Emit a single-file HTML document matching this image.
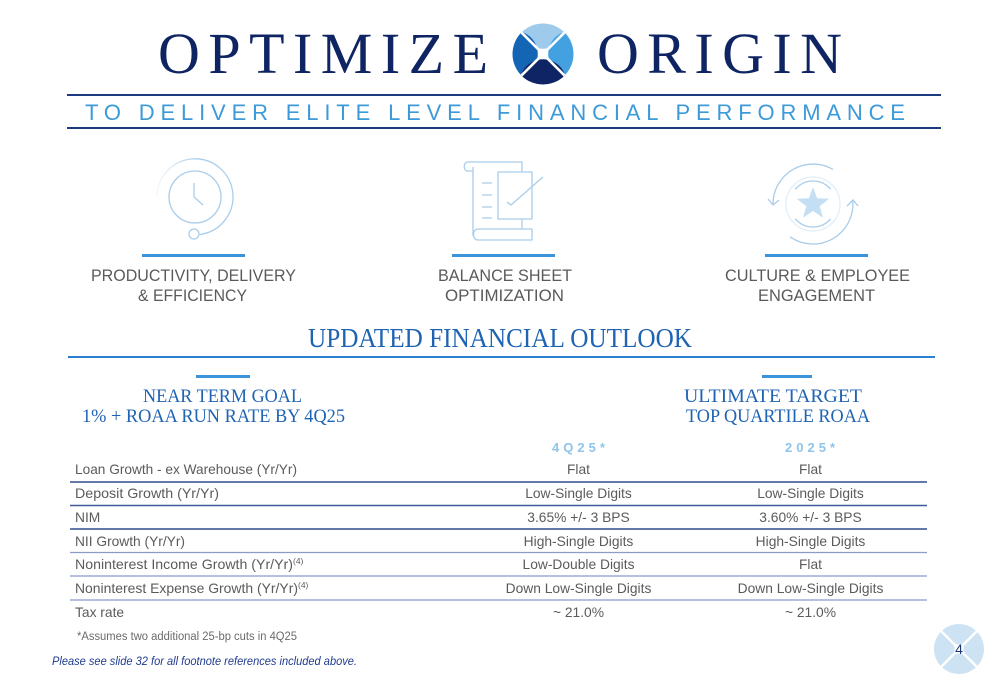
<!DOCTYPE html>
<html>
<head>
<meta charset="utf-8">
<style>
  html,body{margin:0;padding:0;background:#ffffff;}
  svg{display:block;}
  .sans{font-family:"Liberation Sans", Arial, sans-serif;}
  .serif{font-family:"Liberation Serif", "Times New Roman", serif;}
</style>
</head>
<body>
<svg width="1000" height="685" viewBox="0 0 1000 685" xmlns="http://www.w3.org/2000/svg">
  <defs>
    <clipPath id="lc"><circle cx="543" cy="54" r="30.5"/></clipPath>
    <clipPath id="pc"><circle cx="959" cy="649" r="25"/></clipPath>
    <linearGradient id="fadeL" gradientUnits="userSpaceOnUse" x1="155" y1="0" x2="200" y2="0">
      <stop offset="0" stop-color="#a9cdea" stop-opacity="0.1"/>
      <stop offset="1" stop-color="#a9cdea" stop-opacity="1"/>
    </linearGradient>
  </defs>
  <rect width="1000" height="685" fill="#ffffff"/>

  <!-- Title -->
  <text class="serif" x="158" y="73" font-size="58" fill="#0f2462" textLength="330" lengthAdjust="spacing">OPTIMIZE</text>
  <text class="serif" x="597" y="73" font-size="58" fill="#0f2462" textLength="245" lengthAdjust="spacing">ORIGIN</text>

  <!-- Logo -->
  <g clip-path="url(#lc)">
    <circle cx="543" cy="25.5" r="23.3" fill="#9ecbec"/>
    <circle cx="514.5" cy="54" r="23.3" fill="#1565b5"/>
    <circle cx="571.5" cy="54" r="23.3" fill="#43a1e1"/>
    <circle cx="543" cy="82.5" r="23.3" fill="#0f2464"/>
    <line x1="510" y1="21" x2="576" y2="87" stroke="#ffffff" stroke-width="2.6"/>
    <line x1="576" y1="21" x2="510" y2="87" stroke="#ffffff" stroke-width="2.6"/>
  </g>

  <!-- Subtitle band -->
  <line x1="67" y1="95" x2="941" y2="95" stroke="#1c3a80" stroke-width="2"/>
  <line x1="67" y1="128" x2="941" y2="128" stroke="#1c3a80" stroke-width="2"/>
  <text class="sans" x="85" y="120" font-size="22" fill="#3d9ad9" textLength="820" lengthAdjust="spacing">TO DELIVER ELITE LEVEL FINANCIAL PERFORMANCE</text>

  <!-- Icon 1: clock -->
  <g fill="none" stroke="#a9cdea" stroke-width="1.3">
    <circle cx="195" cy="197" r="26"/>
    <path d="M194 183 V197 L203 205"/>
    <path d="M157 197 A38 38 0 1 1 200 234.5" stroke="url(#fadeL)"/>
    <circle cx="194" cy="234" r="5"/>
  </g>
  <rect x="142" y="254" width="103" height="3" fill="#3b94d9"/>
  <text class="sans" x="91" y="281" font-size="17" fill="#5a5a5a" textLength="205" lengthAdjust="spacingAndGlyphs">PRODUCTIVITY, DELIVERY</text>
  <text class="sans" x="138" y="301" font-size="17" fill="#5a5a5a" textLength="109" lengthAdjust="spacingAndGlyphs">&amp; EFFICIENCY</text>

  <!-- Icon 2: document -->
  <g fill="none" stroke="#a9cdea" stroke-width="1.3" stroke-linejoin="round">
    <path d="M468 162 H522 V229"/>
    <path d="M473 167 V236"/>
    <path d="M468 162 C463 162 463 171 468 171 H473"/>
    <rect x="498" y="172" width="34" height="47" fill="#ffffff"/>
    <path d="M478 229 H532 V240 H478 C472 240 472 229 478 229 Z"/>
    <path d="M482 183 h10 M482 195 h10 M482 207 h10 M482 218 h10"/>
    <path d="M507 202 L511 205 L543 177"/>
  </g>
  <rect x="452" y="254" width="103" height="3" fill="#3b94d9"/>
  <text class="sans" x="438" y="281" font-size="17" fill="#5a5a5a" textLength="134" lengthAdjust="spacingAndGlyphs">BALANCE SHEET</text>
  <text class="sans" x="445" y="301" font-size="17" fill="#5a5a5a" textLength="119" lengthAdjust="spacingAndGlyphs">OPTIMIZATION</text>

  <!-- Icon 3: star -->
  <g fill="none" stroke="#a9cdea" stroke-width="1.3">
    <circle cx="813" cy="204" r="27" stroke="#e1eef8"/>
    <path d="M795.4 189.2 A23 23 0 0 1 830.6 189.2"/>
    <path d="M830.6 218.8 A23 23 0 0 1 795.4 218.8"/>
    <path d="M773 204 A40 40 0 0 1 833 169.4"/>
    <path d="M768 199 L773 205 L779 200"/>
    <path d="M790 236.8 A40 40 0 0 0 852.8 200.5"/>
    <path d="M847 206 L853 200 L858 206"/>
  </g>
  <polygon points="813,187 817.1,198.3 829.2,198.7 819.7,206.2 823,217.8 813,211 803,217.8 806.3,206.2 796.8,198.7 808.9,198.3" fill="#c4dff3"/>
  <rect x="765" y="254" width="103" height="3" fill="#3b94d9"/>
  <text class="sans" x="725" y="281" font-size="17" fill="#5a5a5a" textLength="185" lengthAdjust="spacingAndGlyphs">CULTURE &amp; EMPLOYEE</text>
  <text class="sans" x="758" y="301" font-size="17" fill="#5a5a5a" textLength="117" lengthAdjust="spacingAndGlyphs">ENGAGEMENT</text>

  <!-- Updated financial outlook -->
  <text class="serif" x="308" y="347" font-size="27" fill="#1f63b3" textLength="384" lengthAdjust="spacingAndGlyphs">UPDATED FINANCIAL OUTLOOK</text>
  <line x1="68" y1="357" x2="935" y2="357" stroke="#2b7fcf" stroke-width="2"/>

  <rect x="196" y="375" width="54" height="3" fill="#3b94d9"/>
  <rect x="762" y="375" width="50" height="3" fill="#3b94d9"/>
  <text class="serif" x="143" y="402" font-size="19" fill="#1f63b3" textLength="159" lengthAdjust="spacingAndGlyphs">NEAR TERM GOAL</text>
  <text class="serif" x="82" y="422" font-size="19" fill="#1f63b3" textLength="263" lengthAdjust="spacingAndGlyphs">1% + ROAA RUN RATE BY 4Q25</text>
  <text class="serif" x="684" y="402" font-size="19" fill="#1f63b3" textLength="178" lengthAdjust="spacingAndGlyphs">ULTIMATE TARGET</text>
  <text class="serif" x="686" y="422" font-size="19" fill="#1f63b3" textLength="184" lengthAdjust="spacingAndGlyphs">TOP QUARTILE ROAA</text>

  <!-- Table header -->
  <text class="sans" x="552" y="452" font-size="13" font-weight="bold" fill="#8fc4ea" textLength="53" lengthAdjust="spacing">4Q25*</text>
  <text class="sans" x="785" y="452" font-size="13" font-weight="bold" fill="#8fc4ea" textLength="50" lengthAdjust="spacing">2025*</text>

  <!-- Table lines -->
  <g stroke-width="1.5">
    <line x1="70" y1="482" x2="927" y2="482" stroke="#2f4d8e"/>
    <line x1="70" y1="505.5" x2="927" y2="505.5" stroke="#3f5b98"/>
    <line x1="70" y1="529" x2="927" y2="529" stroke="#2f4d8e"/>
    <line x1="70" y1="552.5" x2="927" y2="552.5" stroke="#8b9bc9" stroke-width="1.2"/>
    <line x1="70" y1="576" x2="927" y2="576" stroke="#8b9bc9" stroke-width="1.2"/>
    <line x1="70" y1="600" x2="927" y2="600" stroke="#8b9bc9" stroke-width="1.2"/>
  </g>

  <!-- Table rows -->
  <g class="sans" font-size="13.8" fill="#5b5b5b">
    <text x="75" y="474" textLength="222" lengthAdjust="spacingAndGlyphs">Loan Growth - ex Warehouse (Yr/Yr)</text>
    <text x="75" y="498" textLength="144" lengthAdjust="spacingAndGlyphs">Deposit Growth  (Yr/Yr)</text>
    <text x="75" y="522">NIM</text>
    <text x="75" y="546" textLength="110" lengthAdjust="spacingAndGlyphs">NII Growth (Yr/Yr)</text>
    <text x="75" y="569"><tspan textLength="218" lengthAdjust="spacingAndGlyphs">Noninterest Income Growth (Yr/Yr)</tspan><tspan font-size="8.5" dy="-5">(4)</tspan></text>
    <text x="75" y="593"><tspan textLength="223" lengthAdjust="spacingAndGlyphs">Noninterest Expense Growth (Yr/Yr)</tspan><tspan font-size="8.5" dy="-5">(4)</tspan></text>
    <text x="75" y="617">Tax rate</text>
  </g>
  <g class="sans" font-size="13.8" fill="#5b5b5b" text-anchor="middle">
    <text x="578.5" y="474">Flat</text>
    <text x="578.5" y="498">Low-Single Digits</text>
    <text x="578.5" y="522">3.65% +/- 3 BPS</text>
    <text x="578.5" y="546">High-Single Digits</text>
    <text x="578.5" y="569">Low-Double Digits</text>
    <text x="578.5" y="593">Down Low-Single Digits</text>
    <text x="578.5" y="617">~ 21.0%</text>
    <text x="810.5" y="474">Flat</text>
    <text x="810.5" y="498">Low-Single Digits</text>
    <text x="810.5" y="522">3.60% +/- 3 BPS</text>
    <text x="810.5" y="546">High-Single Digits</text>
    <text x="810.5" y="569">Flat</text>
    <text x="810.5" y="593">Down Low-Single Digits</text>
    <text x="810.5" y="617">~ 21.0%</text>
  </g>

  <!-- Footnotes -->
  <text class="sans" x="77" y="640" font-size="11.5" fill="#6b6b6b" textLength="220" lengthAdjust="spacingAndGlyphs">*Assumes two additional 25-bp cuts in 4Q25</text>
  <text class="sans" x="52" y="665" font-size="11.5" font-style="italic" fill="#1f3b8f" textLength="305" lengthAdjust="spacingAndGlyphs">Please see slide 32 for all footnote references included above.</text>

  <!-- Page number logo -->
  <g clip-path="url(#pc)">
    <circle cx="959" cy="625.25" r="19.3" fill="#cde3f4"/>
    <circle cx="935.25" cy="649" r="19.3" fill="#cde3f4"/>
    <circle cx="982.75" cy="649" r="19.3" fill="#cde3f4"/>
    <circle cx="959" cy="672.75" r="19.3" fill="#cde3f4"/>
    <line x1="931" y1="621" x2="987" y2="677" stroke="#ffffff" stroke-width="2.4"/>
    <line x1="987" y1="621" x2="931" y2="677" stroke="#ffffff" stroke-width="2.4"/>
  </g>
  <text class="sans" x="959" y="654" font-size="14" fill="#1c3578" text-anchor="middle">4</text>
</svg>
</body>
</html>
